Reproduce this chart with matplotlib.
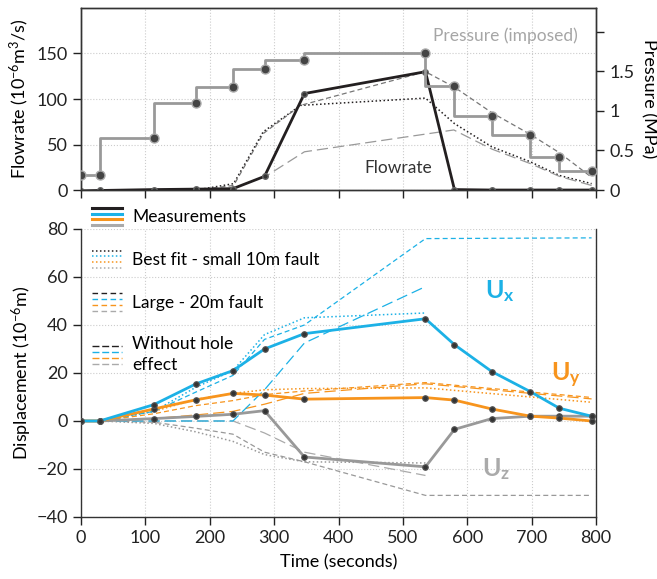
import numpy as np
import matplotlib
matplotlib.use("Agg")
import matplotlib.pyplot as plt
from matplotlib.lines import Line2D
from matplotlib.legend_handler import HandlerBase

plt.rcParams['font.family'] = ['Lato', 'DejaVu Sans']
plt.rcParams['mathtext.fontset'] = 'custom'
plt.rcParams['mathtext.rm'] = 'Lato'
plt.rcParams['mathtext.it'] = 'Lato:italic'
plt.rcParams['mathtext.bf'] = 'Lato:bold'

# ---- data ----
t_meas = [0, 29, 113, 178, 236, 285, 347, 535, 580, 638, 698, 743, 793]
flow_meas = [-1, -0.5, 0.5, 1, 1.5, 15, 106, 130, 0.5, 0, 0, 0, 0]
pressure = [0.19, 0.19, 0.66, 1.10, 1.30, 1.53, 1.64, 1.73, 1.32, 0.94, 0.69, 0.42, 0.245]

t_flow_mod = [179, 237, 283, 341, 535, 580, 638, 698, 743, 793]
flow_fit = [0, 7, 64, 93, 101, 73, 47.5, 31, 16, 7]
flow_large = [0, 5, 62, 93, 130, 113, 85, 61, 41, 14]
t_flow_nohole = [179, 237, 289, 347, 579, 638, 698, 743, 793]
flow_nohole = [0, 2, 16, 42, 66, 45, 29, 15, 5]

ux = [0, 0, 6.8, 15.4, 21, 30, 36.4, 42.6, 31.8, 20.6, 12.2, 5.3, 2]
uy = [0, 0, 5, 8.8, 11.5, 10.8, 9.1, 9.75, 8.7, 5, 2, 1.2, 0]
uz = [0, 0, 1, 1.9, 2.8, 4.3, -15, -19.1, -3.5, 1, 2, 2, 2]

t_mod = [29, 113, 178, 236, 285, 347, 535]
t_mod_long = [29, 113, 178, 236, 285, 347, 535, 793]
ux_fit = [0, 4, 14, 21, 36, 43, 45]
ux_large = [0, 4, 12, 19, 34, 40, 76, 76.3]
ux_nohole = [0, 0, 0, 0, 13, 32.5, 56]
uy_fit = [0, 4, 9, 11.5, 13, 13.5, 13.8, 7.8]
uy_large = [0, 3, 6.4, 8.5, 11, 12.5, 16, 9.8]
uy_nohole = [0, 1, 2.5, 4, 7, 11.5, 15.5, 9.2]
uz_fit = [0, -1, -4.5, -8.5, -14, -17, -17.5]
uz_large = [0, -0.5, -3, -5.5, -13, -17, -31, -31]
uz_nohole = [0, 0, 0, 0, -5, -13, -22.7]

# colours / styles
BLUE = '#1cb1e6'
ORANGE = '#f7941d'
GRAY = '#999999'
BLACK = '#231f20'
DOT = (0, (1, 1.6))
DASH = (0, (4, 2.5))
LDASH = (0, (9, 4))
lw_meas = 2.0
lw_mod = 0.9

fig = plt.figure(figsize=(6.57, 5.79), dpi=100)
ax1 = fig.add_axes([0.1233, 0.6718, 0.784, 0.3144])
ax2 = fig.add_axes([0.1233, 0.1071, 0.784, 0.4974])

# ---- top panel ----
ax1.plot(t_flow_mod, flow_fit, color=BLACK, ls=DOT, lw=1.1)
ax1.plot(t_flow_mod, flow_large, color='#777777', ls=DASH, lw=lw_mod)
ax1.plot(t_flow_nohole, flow_nohole, color='#999999', ls=LDASH, lw=lw_mod)
ax1.plot(t_meas, flow_meas, color=BLACK, lw=2.0, marker='o', ms=4,
         mfc='#333333', mec='#666666', zorder=5)
ax1.set_xlim(0, 800)
ax1.set_ylim(0, 200)
ax1.set_yticks([0, 50, 100, 150])
ax1.set_xticks(range(0, 900, 100))
ax1.set_xticklabels([])
ax1.set_ylabel('Flowrate (10$^{-6}$m$^{3}$/s)', fontsize=13, labelpad=4)
ax1.grid(True, ls=':', color='#cccccc', lw=0.8)
ax1.set_axisbelow(True)

axp = ax1.twinx()
axp.plot(t_meas, pressure, color=GRAY, lw=2.0, drawstyle='steps-pre', zorder=3)
axp.plot(t_meas, pressure, ls='none', marker='o', ms=6.5, mfc='#444444',
         mec='#aaaaaa', mew=1, zorder=4)
axp.set_ylim(0, 2.3)
axp.set_yticks([0, 0.5, 1, 1.5, 2])
axp.set_yticklabels(['0', '0.5', '1', '1.5', ''])
axp.set_ylabel('Pressure (MPa)', fontsize=13, rotation=270, labelpad=16)

ax1.text(659, 170, 'Pressure (imposed)', color='#a6a6a6', fontsize=12.5,
         ha='center', va='center')
ax1.text(493, 24, 'Flowrate', color='#333333', fontsize=12.5,
         ha='center', va='center')

# ---- bottom panel ----
ax2.plot(t_mod, uz_fit, color=GRAY, ls=DOT, lw=1.1)
ax2.plot(t_mod_long, uy_fit, color=ORANGE, ls=DOT, lw=1.1)
ax2.plot(t_mod, ux_fit, color=BLUE, ls=DOT, lw=1.1)
for y, c in [(uz_large, GRAY), (uy_large, ORANGE), (ux_large, BLUE)]:
    ax2.plot(t_mod_long, y, color=c, ls=DASH, lw=lw_mod)
ax2.plot(t_mod, uz_nohole, color='#aaaaaa', ls=LDASH, lw=lw_mod)
ax2.plot(t_mod_long, uy_nohole, color=ORANGE, ls=LDASH, lw=lw_mod)
ax2.plot(t_mod, ux_nohole, color=BLUE, ls=LDASH, lw=lw_mod)

for y, c in [(uz, GRAY), (uy, ORANGE), (ux, BLUE)]:
    ax2.plot(t_meas, y, color=c, lw=lw_meas, marker='o', ms=4,
             mfc='#333333', mec='#555555', mew=0.8, zorder=5)

ax2.set_xlim(0, 800)
ax2.set_ylim(-40, 80)
ax2.set_xticks(range(0, 900, 100))
ax2.set_yticks(range(-40, 100, 20))
ax2.set_xlabel('Time (seconds)', fontsize=13, labelpad=6)
ax2.set_ylabel('Displacement (10$^{-6}$m)', fontsize=13, labelpad=2)
ax2.grid(True, ls=':', color='#cccccc', lw=0.8)
ax2.set_axisbelow(True)
ax2.spines['top'].set_visible(False)

ax2.text(651, 54, r'$\mathbf{U_x}$', color=BLUE, fontsize=18, ha='center', va='center')
ax2.text(753, 19, r'$\mathbf{U_y}$', color=ORANGE, fontsize=18, ha='center', va='center')
ax2.text(644, -20, r'$\mathbf{U_z}$', color='#aaaaaa', fontsize=18, ha='center', va='center')

for a in (ax1, axp, ax2):
    a.tick_params(direction='out', length=6, width=1, labelsize=13, colors='#222222')
    for s in a.spines.values():
        s.set_color('#333333')
        s.set_linewidth(1.0)
ax2.tick_params(axis='y', right=False)


# ---- grouped legend: four stacked samples per entry ----
class StackHandler(HandlerBase):
    def create_artists(self, legend, orig_handle, xdescent, ydescent,
                       width, height, fontsize, trans):
        out = []
        n = len(orig_handle)
        for i, h in enumerate(orig_handle):
            yy = height * (1 - i / (n - 1)) - ydescent
            ln = Line2D([-xdescent, width - xdescent], [yy, yy])
            ln.update_from(h)
            ln.set_transform(trans)
            out.append(ln)
        return out


groups = []
for ls, lw in [('-', 2.2), (DOT, 1.1), (DASH, 1.0), ((0, (5, 2)), 1.0)]:
    groups.append(tuple(Line2D([], [], color=c, ls=ls, lw=lw)
                        for c in [BLACK, BLUE, ORANGE, '#aaaaaa']))
labels = ['Measurements', 'Best fit - small 10m fault', 'Large - 20m fault',
          'Without hole\neffect']
leg = fig.legend(groups, labels, handler_map={tuple: StackHandler()},
                 loc='upper left', bbox_to_anchor=(92 / 657, 1 - 208 / 579),
                 frameon=False, borderpad=0, borderaxespad=0, handlelength=1.75,
                 handleheight=1.15, handletextpad=0.55, labelspacing=1.45,
                 fontsize=12.5)
leg.get_texts()[3].set_linespacing(1.35)

fig.savefig('out.png', dpi=100)
